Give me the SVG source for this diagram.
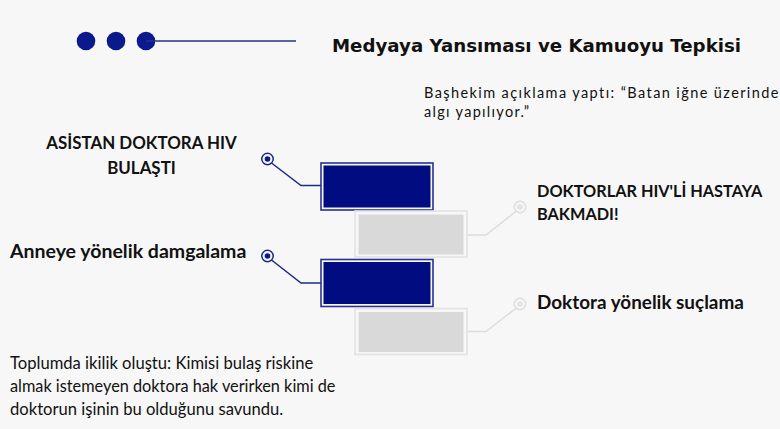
<svg xmlns="http://www.w3.org/2000/svg" width="780" height="429" viewBox="0 0 780 429">
<defs>
<style>
.bg{fill:#f7f7f7}
.navy{fill:#0a1a8c}
.t{font-family:Lato,"Liberation Sans",sans-serif;fill:#111}
.b{font-weight:bold}
.title{font-family:"DejaVu Sans","Liberation Sans",sans-serif;font-weight:bold;font-size:18.2px;fill:#111}
.dkOuter{fill:none;stroke:#26328f;stroke-width:1.6}
.dkInner{fill:#000c80}
.gyOuter{fill:none;stroke:#e2e2e2;stroke-width:1.6}
.gyInner{fill:#d9d9d9}
.conD{fill:none;stroke:#1b2a86;stroke-width:1.5}
.conG{fill:none;stroke:#dcdcdc;stroke-width:1.5}
.ringD{fill:#f7f7f7;stroke:#1b2a86;stroke-width:1.5}
.dotD{fill:#0a1a8c}
.ringG{fill:#f7f7f7;stroke:#dedede;stroke-width:1.5}
.dotG{fill:#e3e3e3}
</style>
</defs>
<rect class="bg" x="0" y="0" width="780" height="429"/>

<g id="header">
<circle class="navy" cx="86" cy="41" r="9.3"/>
<circle class="navy" cx="116" cy="41" r="9.3"/>
<circle class="navy" cx="146" cy="41" r="9.3"/>
<line x1="146" y1="41" x2="296" y2="41" stroke="#26328f" stroke-width="1.5"/>
<text class="title" x="332" y="52">Medyaya Yansıması ve Kamuoyu Tepkisi</text>
</g>

<g id="connectors">
<path class="conD" d="M271.5,163 L301,185.5 L321,185.5"/>
<path class="conD" d="M271.5,260 L301,283 L321,283"/>
<path class="conG" d="M467,235 L486,235 L517,210.5"/>
<path class="conG" d="M467,331.5 L486,331.5 L517,307.5"/>
</g>

<g id="node-asistan">
<rect class="dkOuter" x="321" y="163" width="112" height="47"/>
<rect class="dkInner" x="323.5" y="165.5" width="107" height="42"/>
<circle class="ringD" cx="267.5" cy="159" r="5.7"/>
<circle class="dotD" cx="267.5" cy="159" r="2.8"/>
<text class="t b" x="141.5" y="149" font-size="16.9" text-anchor="middle">ASİSTAN DOKTORA HIV</text>
<text class="t b" x="141.5" y="174" font-size="16.9" text-anchor="middle">BULAŞTI</text>
</g>

<g id="node-doktorlar">
<rect class="gyOuter" x="355" y="211" width="112" height="46"/>
<rect class="gyInner" x="358.5" y="214.5" width="105" height="40"/>
<circle class="ringG" cx="520" cy="207" r="5.7"/>
<circle class="dotG" cx="520" cy="207" r="2.8"/>
<text class="t b" x="537" y="197" font-size="16.3">DOKTORLAR HIV'Lİ HASTAYA</text>
<text class="t b" x="537" y="220" font-size="16.3">BAKMADI!</text>
</g>

<g id="node-anneye">
<rect class="dkOuter" x="321" y="259.5" width="112" height="47"/>
<rect class="dkInner" x="323.5" y="262" width="107" height="42"/>
<circle class="ringD" cx="267.5" cy="256" r="5.7"/>
<circle class="dotD" cx="267.5" cy="256" r="2.8"/>
<text class="t b" x="10" y="258" font-size="19.5">Anneye yönelik damgalama</text>
</g>

<g id="node-suclama">
<rect class="gyOuter" x="355" y="308.5" width="112" height="46"/>
<rect class="gyInner" x="358.5" y="312" width="105" height="40"/>
<circle class="ringG" cx="520" cy="304" r="5.7"/>
<circle class="dotG" cx="520" cy="304" r="2.8"/>
<text class="t b" x="537" y="309" font-size="18.9">Doktora yönelik suçlama</text>
</g>

<g id="note-bashekim">
<text class="t" x="424" y="98" font-size="14.5" letter-spacing="1.4">Başhekim açıklama yaptı: “Batan iğne üzerinde</text>
<text class="t" x="424" y="117" font-size="14.5" letter-spacing="1.3">algı yapılıyor.”</text>
</g>

<g id="note-toplum">
<text class="t" x="10" y="369" font-size="16.6">Toplumda ikilik oluştu: Kimisi bulaş riskine</text>
<text class="t" x="10" y="392" font-size="16.3">almak istemeyen doktora hak verirken kimi de</text>
<text class="t" x="10" y="415" font-size="16.6">doktorun işinin bu olduğunu savundu.</text>
</g>
</svg>
